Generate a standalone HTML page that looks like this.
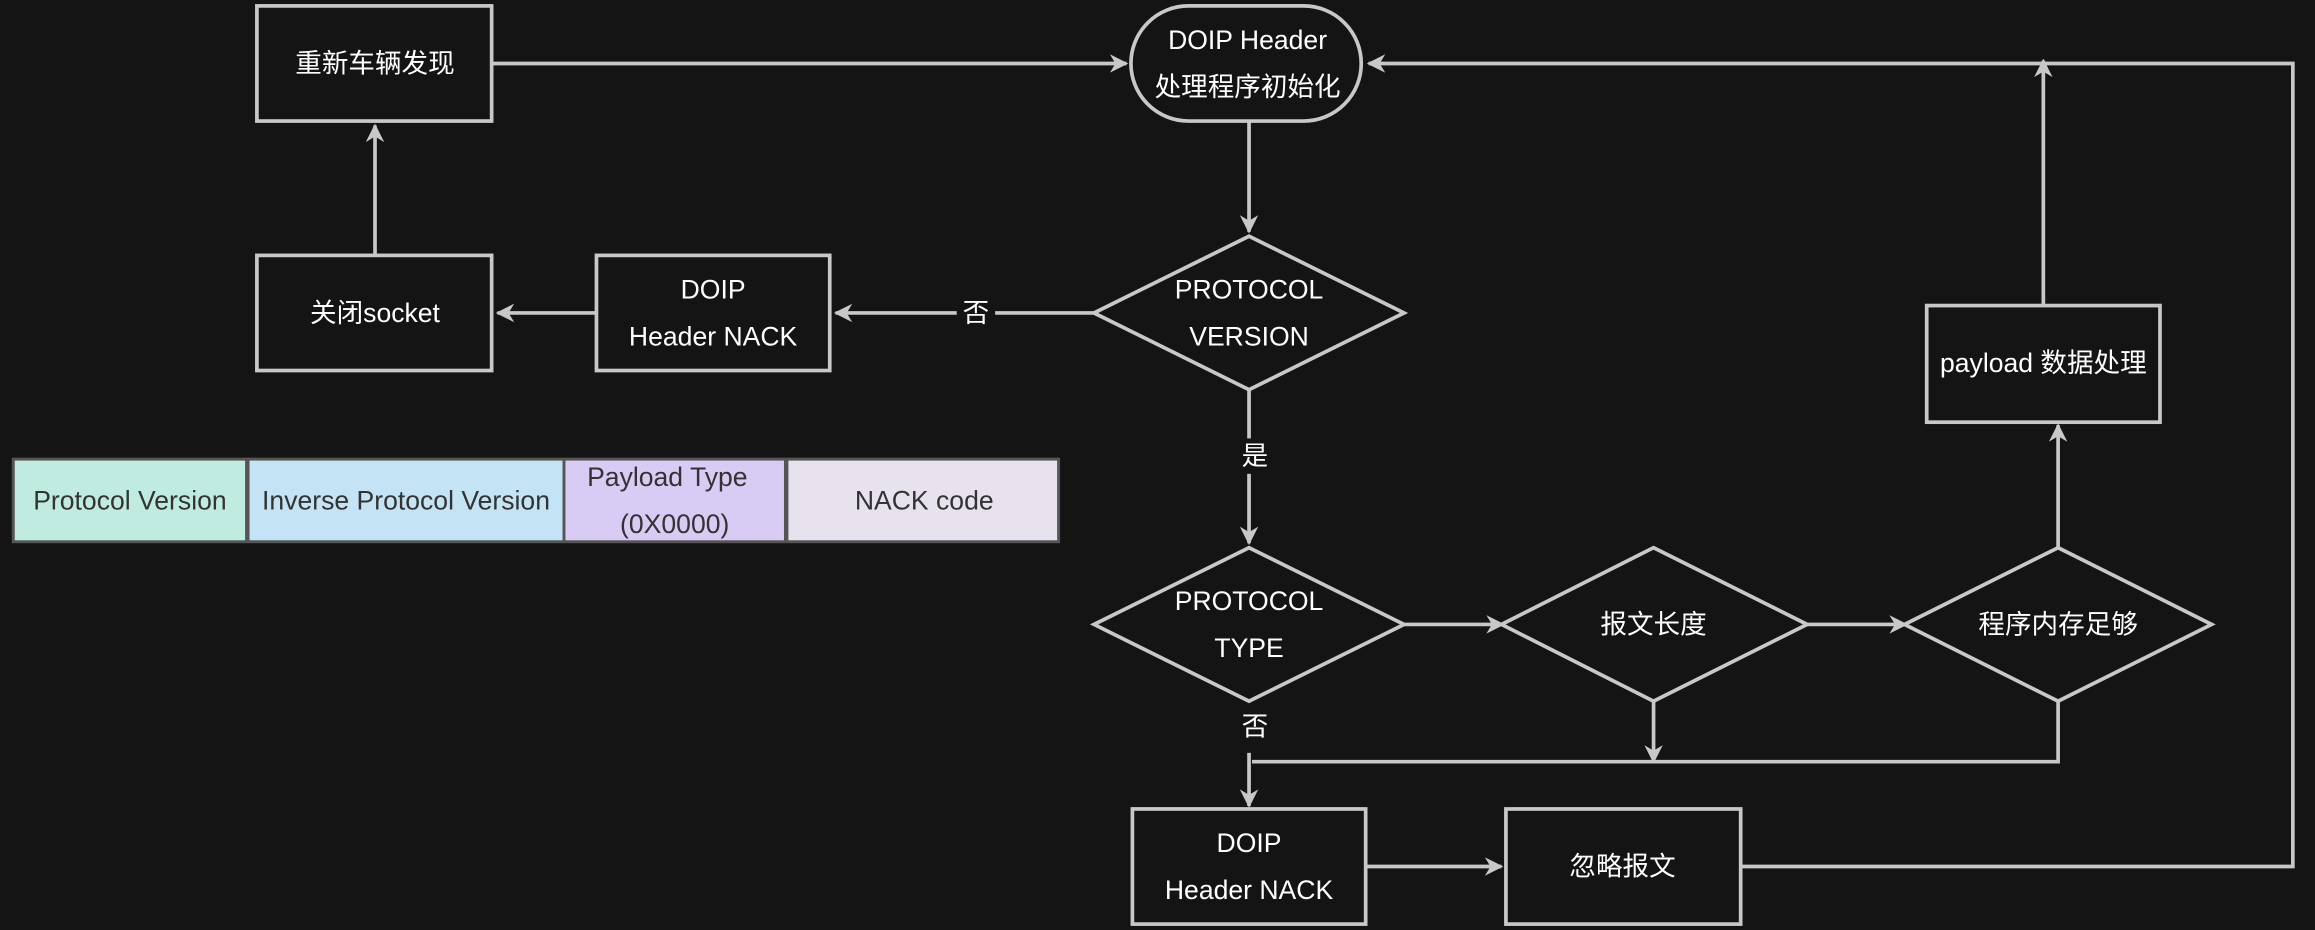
<!DOCTYPE html>
<html><head><meta charset="utf-8"><style>
html,body{margin:0;padding:0;background:#141414;}
svg{display:block;}
text{font-family:"Liberation Sans","Noto Sans CJK SC",sans-serif;}
</style></head><body>
<svg width="2315" height="930" viewBox="0 0 1568 630" preserveAspectRatio="none" xmlns="http://www.w3.org/2000/svg">
<defs>
<marker id="a" viewBox="0 0 10 10" refX="9" refY="5" markerWidth="5" markerHeight="5" orient="auto"><path d="M0,0 L10,5 L0,10 L3,5z" fill="#c8c8c8"/></marker>
</defs>
<rect width="1568" height="630" fill="#141414"/>
<g fill="none" stroke="#c8c8c8" stroke-width="2.5">
<rect x="174" y="4" width="159" height="78"/>
<rect x="766" y="4" width="156" height="78" rx="39"/>
<polygon points="741,212 846,160 951,212 846,264"/>
<rect x="404" y="173" width="158" height="78"/>
<rect x="174" y="173" width="159" height="78"/>
<polygon points="741,423 846,371 951,423 846,475"/>
<polygon points="1017,423 1120,371 1224,423 1120,475"/>
<polygon points="1290,423 1394,371 1498,423 1394,475"/>
<rect x="1305" y="207" width="158" height="79"/>
<rect x="767" y="548" width="158" height="78"/>
<rect x="1020" y="548" width="159" height="78"/>
</g>
<g fill="none" stroke="#c8c8c8" stroke-width="2.5" marker-end="url(#a)">
<line x1="333" y1="43" x2="763" y2="43"/>
<polyline points="1179,587 1553,587 1553,43 927,43"/>
<line x1="846" y1="82" x2="846" y2="157"/>
<line x1="741" y1="212" x2="566" y2="212"/>
<line x1="404" y1="212" x2="337" y2="212"/>
<line x1="254" y1="173" x2="254" y2="85"/>
<line x1="846" y1="264" x2="846" y2="368"/>
<line x1="951" y1="423" x2="1018" y2="423"/>
<line x1="1224" y1="423" x2="1291" y2="423"/>
<line x1="1394" y1="371" x2="1394" y2="288"/>
<line x1="1384" y1="207" x2="1384" y2="41"/>
<line x1="1120" y1="475" x2="1120" y2="516"/>
<line x1="846" y1="510" x2="846" y2="546"/>
<line x1="925" y1="587" x2="1017" y2="587"/>
</g>
<polyline points="1394,475 1394,516 848,516" fill="none" stroke="#c8c8c8" stroke-width="2.5"/>
<rect x="648" y="200" width="26" height="24" fill="#141414"/>
<rect x="837" y="297" width="26" height="24" fill="#141414"/>
<g fill="#fff" font-size="18" text-anchor="middle" dominant-baseline="central">
<text x="254" y="43">重新车辆发现</text>
<text x="845" y="27">DOIP Header</text>
<text x="845" y="59">处理程序初始化</text>
<text x="846" y="196">PROTOCOL</text>
<text x="846" y="228">VERSION</text>
<text x="483" y="196">DOIP</text>
<text x="483" y="228">Header NACK</text>
<text x="254" y="212">关闭socket</text>
<text x="661" y="212">否</text>
<text x="850" y="309">是</text>
<text x="846" y="407">PROTOCOL</text>
<text x="846" y="439">TYPE</text>
<text x="1120" y="423">报文长度</text>
<text x="1394" y="423">程序内存足够</text>
<text x="1384" y="246">payload 数据处理</text>
<text x="850" y="492">否</text>
<text x="846" y="571">DOIP</text>
<text x="846" y="603">Header NACK</text>
<text x="1099" y="587">忽略报文</text>
</g>
<rect x="8" y="310" width="710" height="58" fill="#555"/>
<rect x="10" y="312" width="156" height="54" fill="#c0ebe1"/>
<rect x="169" y="312" width="212" height="54" fill="#c4e3f4"/>
<rect x="383" y="312" width="148" height="54" fill="#d9ccf4"/>
<rect x="534" y="312" width="182" height="54" fill="#e8e1ee"/>
<g fill="#333" font-size="18" text-anchor="middle" dominant-baseline="central">
<text x="88" y="339">Protocol Version</text>
<text x="275" y="339">Inverse Protocol Version</text>
<text x="452" y="323">Payload Type</text>
<text x="457" y="355">(0X0000)</text>
<text x="626" y="339">NACK code</text>
</g>
</svg>
</body></html>
